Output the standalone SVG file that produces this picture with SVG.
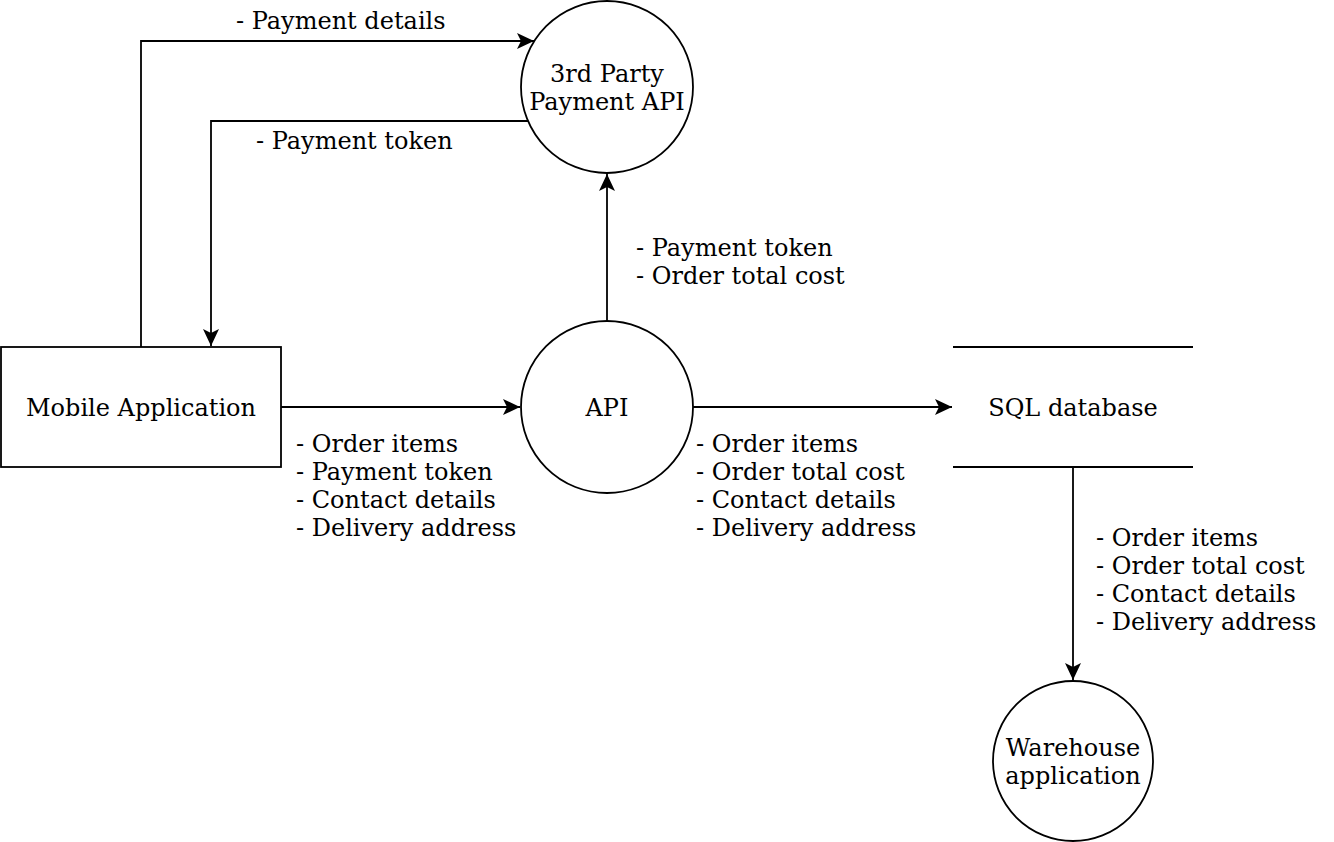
<svg xmlns="http://www.w3.org/2000/svg" width="1334" height="842" viewBox="0 0 1334 842">
<style>
.s{fill:#fff;stroke:#000;stroke-width:1.8}
.c{fill:none;stroke:#000;stroke-width:1.8}
text{font-family:"DejaVu Serif","Liberation Serif",serif;font-size:24px;fill:#000}
.m{text-anchor:middle}
</style>
<defs>
<marker id="arr" viewBox="-18 -9 19 18" refX="0" refY="0" markerWidth="19" markerHeight="18" orient="auto" markerUnits="userSpaceOnUse">
<path d="M0,0 L-17,-8 L-13,0 L-17,8 Z" fill="#000"/>
</marker>
</defs>
<rect width="1334" height="842" fill="#fff"/>
<g id="connectors">
<path class="c" d="M281,407 H520" marker-end="url(#arr)"/>
<path class="c" d="M693,407 H952" marker-end="url(#arr)"/>
<path class="c" d="M607,321 V174" marker-end="url(#arr)"/>
<path class="c" d="M1073,467 V680" marker-end="url(#arr)"/>
<path class="c" d="M141,347 V41 H534" marker-end="url(#arr)"/>
<path class="c" d="M528,121 H211 V346" marker-end="url(#arr)"/>
<text x="236" y="29">- Payment details</text>
<text x="256" y="149">- Payment token</text>
<text x="636" y="256">- Payment token</text>
<text x="636" y="284">- Order total cost</text>
<text x="296" y="452">- Order items</text>
<text x="296" y="480">- Payment token</text>
<text x="296" y="508">- Contact details</text>
<text x="296" y="536">- Delivery address</text>
<text x="696" y="452">- Order items</text>
<text x="696" y="480">- Order total cost</text>
<text x="696" y="508">- Contact details</text>
<text x="696" y="536">- Delivery address</text>
<text x="1096" y="546">- Order items</text>
<text x="1096" y="574">- Order total cost</text>
<text x="1096" y="602">- Contact details</text>
<text x="1096" y="630">- Delivery address</text>
</g>
<g id="mobile">
<rect class="s" x="1" y="347" width="280" height="120"/>
<text class="m" x="141" y="416">Mobile Application</text>
</g>
<g id="api">
<circle class="s" cx="607" cy="407" r="86"/>
<text class="m" x="607" y="416">API</text>
</g>
<g id="payment">
<circle class="s" cx="607" cy="87" r="86"/>
<text class="m" x="607" y="82">3rd Party</text>
<text class="m" x="607" y="110">Payment API</text>
</g>
<g id="sql">
<path class="c" d="M953,347 H1193 M953,467 H1193"/>
<text class="m" x="1073" y="416">SQL database</text>
</g>
<g id="warehouse">
<circle class="s" cx="1073" cy="761" r="80"/>
<text class="m" x="1073" y="756">Warehouse</text>
<text class="m" x="1073" y="784">application</text>
</g>
</svg>
